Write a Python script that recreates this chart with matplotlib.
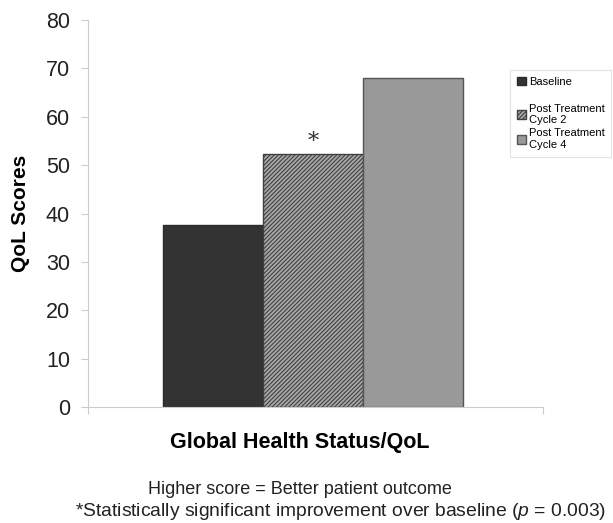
import matplotlib.pyplot as plt
import matplotlib.patches as mpatches
import numpy as np

plt.rcParams['font.family'] = ['Liberation Sans', 'DejaVu Sans']
plt.rcParams['mathtext.fontset'] = 'custom'
plt.rcParams['mathtext.it'] = 'Liberation Sans:italic'
plt.rcParams['hatch.linewidth'] = 0.8

# QoL global health status scores
groups = ['Baseline', 'Post Treatment\nCycle 2', 'Post Treatment\nCycle 4']
scores = [37.7, 52.2, 68.1]
significant = [False, True, False]

yticks = np.arange(0, 81, 10)

fig = plt.figure(figsize=(6.13, 5.23), dpi=100)
ax = fig.add_axes([88 / 613, 1 - 407 / 523, 455 / 613, 387 / 523])

pos = np.arange(len(scores)) - 1
styles = [
    dict(color='#333333', edgecolor='#2a2a2a'),
    dict(facecolor='#a8a8a8', edgecolor='#404040', hatch='////////'),
    dict(color='#999999', edgecolor='#555555'),
]
handles = []
for x, v, lab, st in zip(pos, scores, groups, styles):
    b = ax.bar(x, v, width=1.0, linewidth=1.0, label=lab, **st)
    handles.append(b)

for x, v, s in zip(pos, scores, significant):
    if s:
        ax.text(x, v + 0.3, '*', ha='center', va='bottom', fontsize=16,
                family='DejaVu Serif', color='#333333')

ax.set_xlim(-2.25, 2.30)
ax.set_ylim(0, 80)
ax.set_yticks(yticks)
ax.set_xticks([-2.25, 2.30])
ax.set_xticklabels([])
ax.tick_params(axis='y', labelsize=15.5, colors='#cccccc', labelcolor='#222222',
               length=5, pad=8)
ax.tick_params(axis='x', colors='#cccccc', length=5)
for sp in ['top', 'right']:
    ax.spines[sp].set_visible(False)
for sp in ['left', 'bottom']:
    ax.spines[sp].set_color('#cccccc')

ax.set_ylabel('QoL Scores', fontsize=15, fontweight='bold')
ax.yaxis.set_label_coords(-0.127, 0.5)
ax.set_xlabel('Global Health Status/QoL', fontsize=15.5, fontweight='bold')
ax.xaxis.set_label_coords(0.466, -0.065)

# blank entry gives the extra gap below "Baseline"
gap = mpatches.Patch(visible=False, label=' ')
leg = fig.legend(handles=[handles[0], gap, handles[1], handles[2]],
                 loc='upper left',
                 bbox_to_anchor=(510 / 613, 1 - 70 / 523),
                 fontsize=8, frameon=True, fancybox=False,
                 handlelength=0.8, handleheight=0.8, handletextpad=0.3,
                 labelspacing=0.3, borderpad=0.6, borderaxespad=0)
leg.get_frame().set_edgecolor('#dddddd')
leg.get_frame().set_linewidth(0.8)

fig.text(300 / 613, 1 - 489 / 523, 'Higher score = Better patient outcome',
         ha='center', va='center', fontsize=13, color='#222222')
fig.text(75 / 613, 1 - 511 / 523,
         '*Statistically significant improvement over baseline ($p$ = 0.003)',
         ha='left', va='center', fontsize=13.9, color='#222222')

fig.savefig('out.png', dpi=100)
